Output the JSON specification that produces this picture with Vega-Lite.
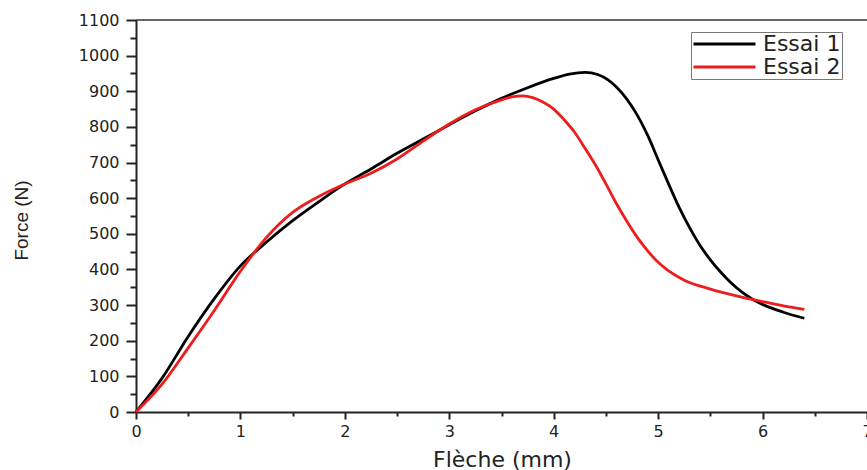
{
  "$schema": "https://vega.github.io/schema/vega-lite/v6.json",
  "width": 731,
  "height": 392,
  "autosize": {"type": "none"},
  "padding": {"left": 136, "top": 20, "right": 0, "bottom": 58},
  "background": "white",
  "config": {"view": {"stroke": null}},
  "datasets": {
    "curves": [
      {"s": "Essai 1", "x": 0, "y": 0},
      {"s": "Essai 1", "x": 0.25, "y": 95},
      {"s": "Essai 1", "x": 0.5, "y": 212},
      {"s": "Essai 1", "x": 0.75, "y": 318},
      {"s": "Essai 1", "x": 1.0, "y": 410},
      {"s": "Essai 1", "x": 1.25, "y": 477},
      {"s": "Essai 1", "x": 1.5, "y": 537},
      {"s": "Essai 1", "x": 1.75, "y": 590},
      {"s": "Essai 1", "x": 2.0, "y": 640},
      {"s": "Essai 1", "x": 2.25, "y": 682},
      {"s": "Essai 1", "x": 2.5, "y": 726},
      {"s": "Essai 1", "x": 2.75, "y": 766},
      {"s": "Essai 1", "x": 3.0, "y": 806},
      {"s": "Essai 1", "x": 3.25, "y": 845},
      {"s": "Essai 1", "x": 3.5, "y": 880},
      {"s": "Essai 1", "x": 3.75, "y": 910},
      {"s": "Essai 1", "x": 4.0, "y": 936},
      {"s": "Essai 1", "x": 4.15, "y": 948},
      {"s": "Essai 1", "x": 4.3, "y": 953},
      {"s": "Essai 1", "x": 4.42, "y": 947},
      {"s": "Essai 1", "x": 4.52, "y": 932},
      {"s": "Essai 1", "x": 4.6, "y": 912},
      {"s": "Essai 1", "x": 4.7, "y": 878},
      {"s": "Essai 1", "x": 4.8, "y": 833},
      {"s": "Essai 1", "x": 4.9, "y": 776},
      {"s": "Essai 1", "x": 5.0, "y": 708},
      {"s": "Essai 1", "x": 5.1, "y": 640},
      {"s": "Essai 1", "x": 5.2, "y": 575},
      {"s": "Essai 1", "x": 5.3, "y": 518},
      {"s": "Essai 1", "x": 5.4, "y": 468},
      {"s": "Essai 1", "x": 5.5, "y": 427},
      {"s": "Essai 1", "x": 5.6, "y": 392},
      {"s": "Essai 1", "x": 5.7, "y": 362},
      {"s": "Essai 1", "x": 5.8, "y": 337},
      {"s": "Essai 1", "x": 5.9, "y": 317},
      {"s": "Essai 1", "x": 6.0, "y": 302},
      {"s": "Essai 1", "x": 6.2, "y": 280},
      {"s": "Essai 1", "x": 6.4, "y": 263},
      {"s": "Essai 2", "x": 0, "y": 0},
      {"s": "Essai 2", "x": 0.25, "y": 78},
      {"s": "Essai 2", "x": 0.5, "y": 180},
      {"s": "Essai 2", "x": 0.75, "y": 285},
      {"s": "Essai 2", "x": 1.0, "y": 395},
      {"s": "Essai 2", "x": 1.25, "y": 490},
      {"s": "Essai 2", "x": 1.5, "y": 560},
      {"s": "Essai 2", "x": 1.75, "y": 605},
      {"s": "Essai 2", "x": 2.0, "y": 640},
      {"s": "Essai 2", "x": 2.25, "y": 670},
      {"s": "Essai 2", "x": 2.5, "y": 710},
      {"s": "Essai 2", "x": 2.75, "y": 760},
      {"s": "Essai 2", "x": 3.0, "y": 808},
      {"s": "Essai 2", "x": 3.25, "y": 848},
      {"s": "Essai 2", "x": 3.5, "y": 876},
      {"s": "Essai 2", "x": 3.6, "y": 884},
      {"s": "Essai 2", "x": 3.7, "y": 887},
      {"s": "Essai 2", "x": 3.8, "y": 882},
      {"s": "Essai 2", "x": 3.9, "y": 869},
      {"s": "Essai 2", "x": 4.0, "y": 850},
      {"s": "Essai 2", "x": 4.1, "y": 820},
      {"s": "Essai 2", "x": 4.2, "y": 785},
      {"s": "Essai 2", "x": 4.3, "y": 740},
      {"s": "Essai 2", "x": 4.4, "y": 693},
      {"s": "Essai 2", "x": 4.5, "y": 640},
      {"s": "Essai 2", "x": 4.6, "y": 585},
      {"s": "Essai 2", "x": 4.7, "y": 535},
      {"s": "Essai 2", "x": 4.8, "y": 490},
      {"s": "Essai 2", "x": 4.9, "y": 452},
      {"s": "Essai 2", "x": 5.0, "y": 420},
      {"s": "Essai 2", "x": 5.1, "y": 396},
      {"s": "Essai 2", "x": 5.25, "y": 370},
      {"s": "Essai 2", "x": 5.5, "y": 345},
      {"s": "Essai 2", "x": 5.75, "y": 326},
      {"s": "Essai 2", "x": 6.0, "y": 310},
      {"s": "Essai 2", "x": 6.2, "y": 298},
      {"s": "Essai 2", "x": 6.4, "y": 288}
    ],
    "frame": [{"top": 1100, "x0": 0}]
  },
  "resolve": {"axis": {"x": "independent", "y": "independent"}},
  "layer": [
    {
      "data": {"name": "frame"},
      "mark": {"type": "rule", "color": "#333333", "strokeWidth": 1.5},
      "encoding": {
        "y": {
          "field": "top",
          "type": "quantitative",
          "scale": {"domain": [0, 1100], "nice": false},
          "axis": {
            "orient": "left",
            "title": null,
            "values": [50, 150, 250, 350, 450, 550, 650, 750, 850, 950, 1050],
            "labels": false,
            "domain": false,
            "grid": false,
            "tickColor": "#222222",
            "tickWidth": 2,
            "tickSize": 6
          }
        }
      }
    },
    {
      "data": {"name": "frame"},
      "mark": {"type": "rule", "opacity": 0},
      "encoding": {
        "x": {
          "field": "x0",
          "type": "quantitative",
          "scale": {"domain": [0, 7], "nice": false},
          "axis": {
            "orient": "bottom",
            "title": null,
            "values": [0.5, 1.5, 2.5, 3.5, 4.5, 5.5, 6.5],
            "labels": false,
            "domain": false,
            "grid": false,
            "tickColor": "#222222",
            "tickWidth": 2,
            "tickSize": 4
          }
        }
      }
    },
    {
      "data": {"name": "curves"},
      "mark": {"type": "line", "interpolate": "monotone", "strokeWidth": 2.8},
      "encoding": {
        "x": {
          "field": "x",
          "type": "quantitative",
          "scale": {"domain": [0, 7], "nice": false},
          "axis": {
            "orient": "bottom",
            "title": "Flèche (mm)",
            "titleFont": "DejaVu Sans",
            "titleFontSize": 22,
            "titleFontWeight": "normal",
            "titleColor": "#222222",
            "titleX": 366,
            "titleY": 54,
            "titleBaseline": "alphabetic",
            "titleAlign": "center",
            "values": [0, 1, 2, 3, 4, 5, 6, 7],
            "format": "d",
            "labelFont": "DejaVu Sans",
            "labelFontSize": 16,
            "labelColor": "#222222",
            "labelPadding": 4,
            "labelFlush": false,
            "labelOverlap": false,
            "grid": false,
            "domainColor": "#222222",
            "domainWidth": 2,
            "tickColor": "#222222",
            "tickWidth": 2,
            "tickSize": 7
          }
        },
        "y": {
          "field": "y",
          "type": "quantitative",
          "scale": {"domain": [0, 1100], "nice": false},
          "axis": {
            "orient": "left",
            "title": "Force (N)",
            "titleFont": "Liberation Sans",
            "titleFontSize": 19,
            "titleFontWeight": "normal",
            "titleColor": "#222222",
            "titleAngle": -90,
            "titleX": -109,
            "titleY": 200,
            "titleBaseline": "alphabetic",
            "titleAlign": "center",
            "values": [0, 100, 200, 300, 400, 500, 600, 700, 800, 900, 1000, 1100],
            "format": "d",
            "labelFont": "DejaVu Sans",
            "labelFontSize": 16,
            "labelColor": "#222222",
            "labelPadding": 7,
            "labelFlush": false,
            "labelOverlap": false,
            "grid": false,
            "domainColor": "#222222",
            "domainWidth": 2,
            "tickColor": "#222222",
            "tickWidth": 2,
            "tickSize": 10
          }
        },
        "color": {
          "field": "s",
          "type": "nominal",
          "scale": {"domain": ["Essai 1", "Essai 2"], "range": ["#000000", "#ee1c1c"]},
          "legend": {
            "title": null,
            "orient": "none",
            "legendX": 555,
            "legendY": 12,
            "symbolType": "M-1,0H1",
            "symbolSize": 3844,
            "symbolStrokeWidth": 2.8,
            "clipHeight": 22,
            "labelFont": "DejaVu Sans",
            "labelFontSize": 22,
            "labelColor": "#222222",
            "labelOffset": 6,
            "rowPadding": 1,
            "padding": 1,
            "strokeColor": "#777777",
            "fillColor": "white"
          }
        }
      }
    }
  ]
}
